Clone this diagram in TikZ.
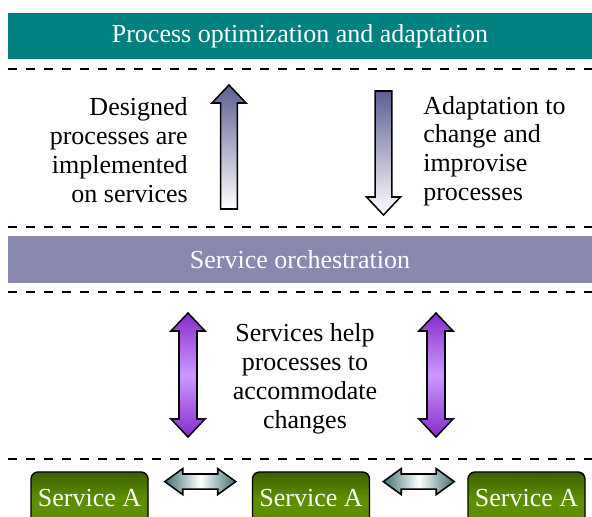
\documentclass[tikz,border=0pt]{standalone}
\usepackage{fontspec}
\setmainfont{Liberation Serif}
\usepackage{tikz}
\usetikzlibrary{positioning, calc}
\definecolor{optteal}{RGB}{0,128,128}
\definecolor{orchpurple}{RGB}{136,136,176}
\definecolor{slateblue}{RGB}{94,94,150}
\definecolor{arrowpurple}{RGB}{138,42,205}
\definecolor{arrowlilac}{RGB}{204,153,255}
\definecolor{linkteal}{RGB}{64,112,112}
\definecolor{servicedark}{RGB}{58,96,0}
\definecolor{servicegreen}{RGB}{92,142,0}

\tikzset{
    layer/.style={fill=#1, text=white, minimum width=14.6cm, minimum height=1.15cm, inner sep=0pt},
    sep/.style={line width=1.4pt, dash pattern=on 6.4pt off 6.4pt},
    blockline/.style={draw=black, line width=1.1pt, line join=miter},
    note/.style={inner sep=0pt},
    servicebox/.style={draw=black, line width=1pt, rounded corners=5pt, top color=servicedark, bottom color=servicegreen, middle color=servicegreen, text=white, minimum width=2.925cm, minimum height=1.3cm},
    pics/uparr/.style={code={
        \shade[blockline, top color=slateblue, bottom color=white] (0,#1) -- (0.425,#1-0.45) -- (0.21,#1-0.45) -- (0.21,0) -- (-0.21,0) -- (-0.21,#1-0.45) -- (-0.425,#1-0.45) -- cycle;
    }},
    pics/downarr/.style={code={
        \shade[blockline, top color=slateblue, bottom color=white] (0,-#1) -- (0.425,-#1+0.45) -- (0.21,-#1+0.45) -- (0.21,0) -- (-0.21,0) -- (-0.21,-#1+0.45) -- (-0.425,-#1+0.45) -- cycle;
    }},
    pics/vdouble/.style={code={
        \shade[blockline, top color=arrowpurple, bottom color=arrowpurple, middle color=arrowlilac] (0,#1) -- (0.425,#1-0.45) -- (0.225,#1-0.45) -- (0.225,0.45) -- (0.425,0.45) -- (0,0) -- (-0.425,0.45) -- (-0.225,0.45) -- (-0.225,#1-0.45) -- (-0.425,#1-0.45) -- cycle;
    }},
    pics/hdouble/.style={code={
        \shade[blockline, left color=linkteal, right color=linkteal, middle color=white] (-0.8875,0) -- (-0.4375,0.325) -- (-0.4375,0.19) -- (0.4375,0.19) -- (0.4375,0.325) -- (0.8875,0) -- (0.4375,-0.325) -- (0.4375,-0.19) -- (-0.4375,-0.19) -- (-0.4375,-0.325) -- cycle;
    }}
}

\begin{document}
\begin{tikzpicture}[font=\fontsize{18.5}{20.5}\selectfont]
    \useasboundingbox (0,0) rectangle (14.8,12.925);

    % Layers
    \node[layer=optteal] (optbar) at (7.5,12.025) {Process optimization and adaptation};
    \node[layer=orchpurple, minimum height=1.175cm] (orchbar) at (7.5,6.4375) {Service orchestration};

    % Separators
    \foreach \y in {11.2,7.25,5.625,1.45} {
        \draw[sep] (0.2,\y) -- (14.8,\y);
    }

    % Between processes and orchestration
    \pic at (5.725,7.7) {uparr=3.1};
    \pic at (9.5875,10.65) {downarr=3.1};
    \node[note, anchor=east, align=right] (designtxt) at (4.7,9.175) {Designed\\processes are\\implemented\\on services};
    \node[note, anchor=west, align=left] (adapttxt) at (10.575,9.15) {Adaptation to\\change and\\improvise\\processes};

    % Between orchestration and services
    \pic at (4.7,2.0) {vdouble=3.1};
    \pic at (10.9,2.0) {vdouble=3.1};
    \node[note, align=center] (helptxt) at (7.625,3.45) {Services help\\processes to\\accommodate\\changes};

    % Services
    \foreach \i/\x in {1/2.2375,2/7.775,3/13.1625} {
        \node[servicebox] (svc\i) at (\x,0.475) {Service A};
    }
    \foreach \a/\b in {1/2,2/3} {
        \pic at ($(svc\a.east)!0.5!(svc\b.west)+(0,0.41)$) {hdouble};
    }
\end{tikzpicture}
\end{document}
